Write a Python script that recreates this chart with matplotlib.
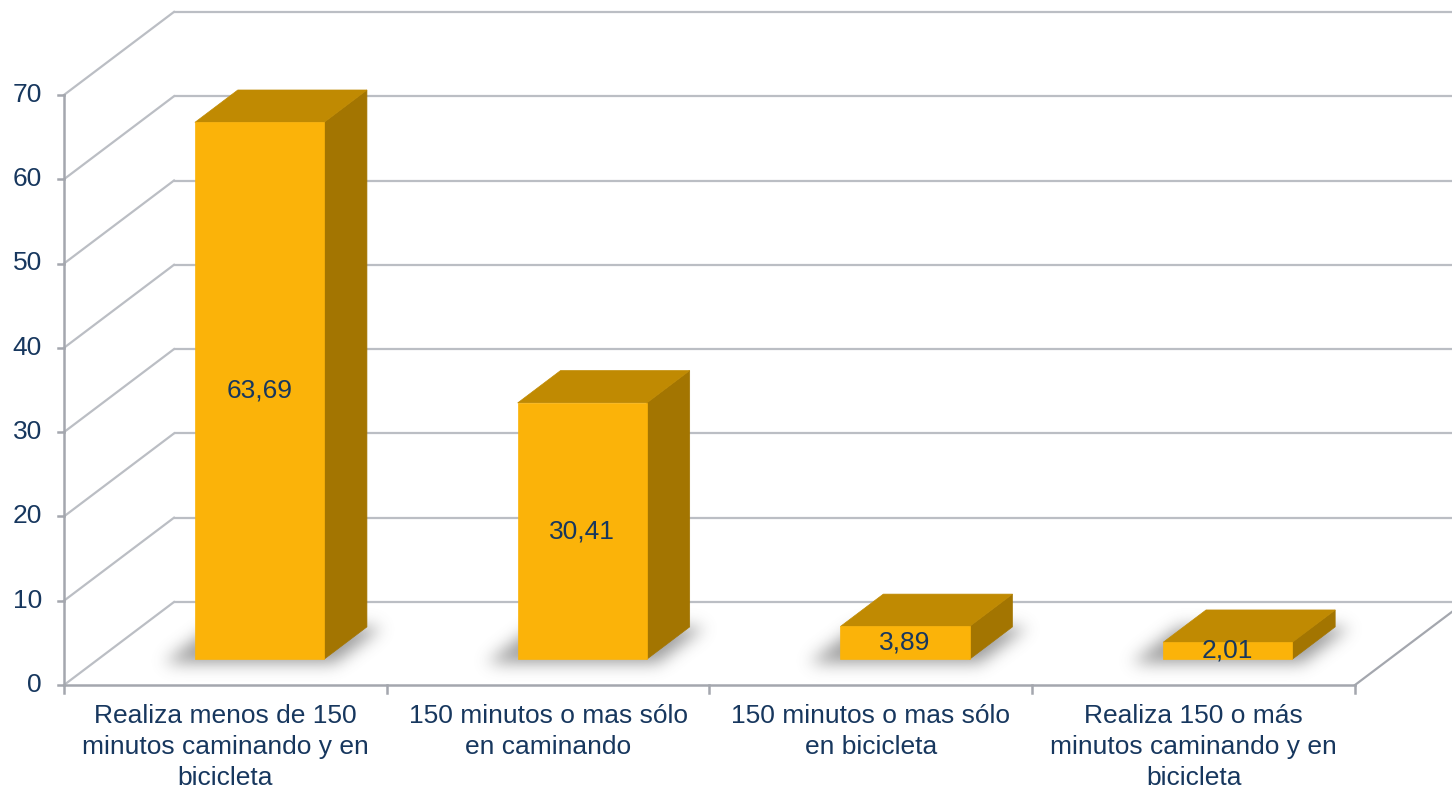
import numpy as np
import matplotlib.pyplot as plt
from matplotlib.patches import Polygon
from matplotlib.transforms import offset_copy

plt.rcParams['font.family'] = ['Liberation Sans', 'DejaVu Sans']

categories = [
    "Realiza menos de 150\nminutos caminando y en\nbicicleta",
    "150 minutos o mas sólo\nen caminando",
    "150 minutos o mas sólo\nen bicicleta",
    "Realiza 150 o más\nminutos caminando y en\nbicicleta",
]
values = [63.69, 30.41, 3.89, 2.01]
value_labels = ["63,69", "30,41", "3,89", "2,01"]
yticks = [0, 10, 20, 30, 40, 50, 60, 70]

TEXT = '#17375E'
GRID = '#BBBEC4'
AXIS = '#A4A7AE'
FRONT, TOP, SIDE = '#FBB309', '#C08A02', '#A37501'

W, H = 1452, 791
fig = plt.figure(figsize=(W / 100, H / 100), dpi=100)
ax = fig.add_axes([0, 0, 1, 1])
ax.axis('off')

# one category = 322.75 px, one unit = 8.43 px; origin of the front axes at (64, 685)
CAT_PX, UNIT_PX = 322.75, 8.43
X0, Y0 = 64, 685
xlim = (-X0 / CAT_PX, (W - X0) / CAT_PX)
ylim = ((Y0 - H) / UNIT_PX, Y0 / UNIT_PX)
ax.set_xlim(*xlim)
ax.set_ylim(*ylim)

# oblique depth offset of the 3D box
DX, DY = 110 / CAT_PX, 83 / UNIT_PX


def proj(c, v, d):
    return c + d * DX, v + d * DY


n = len(values)
ymax = yticks[-1]

# back wall and side wall gridlines
for t in yticks:
    xa, ya = proj(0, t, 1)
    xb, yb = proj(n + 1, t, 1)
    ax.plot([xa, xb], [ya, yb], color=GRID, lw=1.6, zorder=1, solid_capstyle='butt')
    xc, yc = proj(0, t, 0)
    ax.plot([xc, xa], [yc, ya], color=GRID, lw=1.6, zorder=1)

# floor edges and axes
x1, y1 = proj(n, 0, 1)
ax.plot([n, x1], [0, y1], color=AXIS, lw=1.6, zorder=1)
ax.plot([0, n], [0, 0], color=AXIS, lw=1.8, zorder=3)
ax.plot([0, 0], [0, ymax], color=AXIS, lw=1.8, zorder=3)
tick_c = 6 / CAT_PX
tick_v = 8 / UNIT_PX
for t in yticks:
    ax.plot([-tick_c, 0], [t, t], color=AXIS, lw=1.8, zorder=3)
    ax.text(-22 / CAT_PX, t, str(t), ha='right', va='center', fontsize=19, color=TEXT)
for k in range(n + 1):
    ax.plot([k, k], [0, -tick_v], color=AXIS, lw=1.8, zorder=3)

# soft shadows on the floor under each bar
d0, d1 = 0.31, 0.70
half = 0.2
xs = np.linspace(xlim[0], xlim[1], W)
ys = np.linspace(ylim[0], ylim[1], H)
X, Y = np.meshgrid(xs, ys)
D = Y / DY
C = X - D * DX
mask = np.zeros((H, W))
pad = 0.08
for i in range(n):
    ci = i + 0.5
    inside = (D >= d0 - 0.05) & (D <= d1) & (C >= ci - half - pad) & (C <= ci + half + pad * 0.6)
    mask[inside] = 1.0
sig = 8
k = np.exp(-0.5 * (np.arange(-3 * sig, 3 * sig + 1) / sig) ** 2)
k /= k.sum()
blur = np.apply_along_axis(lambda r: np.convolve(r, k, mode='same'), 1, mask)
blur = np.apply_along_axis(lambda r: np.convolve(r, k, mode='same'), 0, blur)
shadow = np.zeros((H, W, 4))
shadow[..., :3] = 0.35
shadow[..., 3] = blur * 0.6
ax.imshow(shadow, extent=[xlim[0], xlim[1], ylim[0], ylim[1]], origin='lower',
          aspect='auto', interpolation='bilinear', zorder=2)

# bars
for i, (v, lab) in enumerate(zip(values, value_labels)):
    cl, cr = i + 0.5 - half, i + 0.5 + half
    side = [proj(cr, 0, d0), proj(cr, 0, d1), proj(cr, v, d1), proj(cr, v, d0)]
    top = [proj(cl, v, d0), proj(cr, v, d0), proj(cr, v, d1), proj(cl, v, d1)]
    front = [proj(cl, 0, d0), proj(cr, 0, d0), proj(cr, v, d0), proj(cl, v, d0)]
    for pts, col in [(side, SIDE), (top, TOP), (front, FRONT)]:
        ax.add_patch(Polygon(pts, closed=True, facecolor=col, edgecolor=col, lw=0.5, zorder=4))
    lx, ly = proj(i + 0.5, v / 2, d0)
    ax.text(lx, ly, lab, ha='center', va='center', fontsize=19, color=TEXT, zorder=5)

# category labels under the floor
lab_tr = offset_copy(ax.transData, fig=fig, x=0, y=-14, units='points')
for i, cat in enumerate(categories):
    ax.text(i + 0.5, 0, cat, transform=lab_tr, ha='center', va='top', fontsize=19,
            color=TEXT, linespacing=1.36)

ax.set_xlim(*xlim)
ax.set_ylim(*ylim)
fig.savefig('out.png', dpi=100)
